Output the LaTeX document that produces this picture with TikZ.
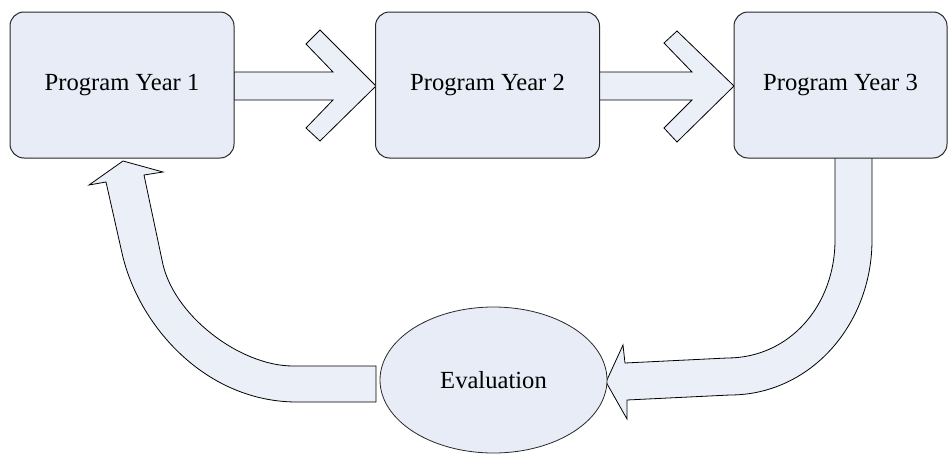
\documentclass[tikz,border=0pt]{standalone}
\usepackage{fontspec}
\setmainfont{Liberation Serif}
\usetikzlibrary{shapes.geometric,calc}
\definecolor{boxfill}{RGB}{231,236,246}
\definecolor{arrfill}{RGB}{234,239,248}
\definecolor{edge}{RGB}{40,40,40}
\begin{document}
\begin{tikzpicture}[x=1pt,y=-1pt,
  yearbox/.style={draw=edge,line width=1pt,fill=boxfill,rounded corners=14pt,
    minimum width=224pt,minimum height=146pt,inner sep=0pt,font=\fontsize{24.6}{28}\selectfont},
  evalnode/.style={ellipse,draw=edge,line width=0.8pt,fill=boxfill,
    minimum width=227pt,minimum height=146pt,inner sep=0pt,font=\fontsize{24.6}{28}\selectfont},
  bigarrow/.style={draw=black,line width=0.8pt,fill=arrfill,line join=miter}]
\useasboundingbox (0,0) rectangle (948,455);
% node positions (centres)
\coordinate (c1) at (122,85);
\coordinate (c2) at (487.5,85);
\coordinate (c3) at (840.5,85);
% arrows first (under the boxes)
\draw[bigarrow] (234,72) -- (333,72) -- (306,44) -- (320,30) -- (376,86)
   -- (320,141) -- (306,128) -- (333,100) -- (234,100) -- cycle;
\draw[bigarrow] (599,72) -- (692,72) -- (664,43) -- (677,31) -- (734,86)
   -- (677,142) -- (664,128) -- (692,100) -- (599,100) -- cycle;
% right curved arrow: Year 3 -> Evaluation
\draw[bigarrow] (835,157) -- (835,240) .. controls (835,305) and (790,358) .. (727,358)
   -- (625,363) -- (623,345) -- (606,382) -- (627,419) -- (627,400) -- (730,395)
   .. controls (810,395) and (872,325) .. (872,240) -- (872,157) -- cycle;
% left curved arrow: Evaluation -> Year 1
\draw[bigarrow] (376,366) -- (293,366) .. controls (240,366) and (172,315) .. (162,260)
   -- (144,175) -- (163,172) -- (123,161) -- (89,185) -- (106,182) -- (122,253)
   .. controls (138,325) and (205,402) .. (297,402) -- (376,402) -- cycle;
% nodes
\node[yearbox] (y1) at (c1) {Program Year 1};
\node[yearbox] (y2) at (c2) {Program Year 2};
\node[yearbox,minimum width=213pt] (y3) at (c3) {Program Year 3};
\node[evalnode] (ev) at (493.5,380) {Evaluation};
\end{tikzpicture}
\end{document}
